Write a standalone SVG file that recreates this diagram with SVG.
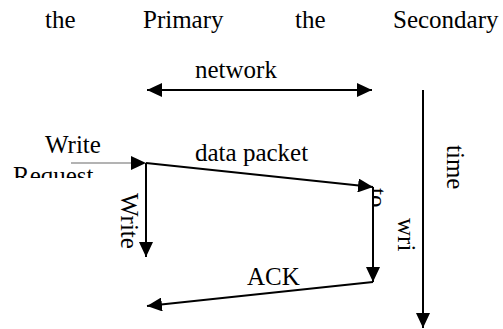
<svg xmlns="http://www.w3.org/2000/svg" width="503" height="329" viewBox="0 0 503 329">
<style>
text{font-family:"Liberation Serif","Times New Roman",serif;font-size:25px;fill:#000}
.ln{stroke:#000;stroke-width:2;fill:none}
.gray{stroke:#9a9a9a;stroke-width:1.5;fill:none}
</style>
<defs>
<marker id="ah" markerUnits="userSpaceOnUse" markerWidth="16" markerHeight="14" refX="15" refY="7" orient="auto-start-reverse">
<path d="M0,0 L15,7 L0,14 z" fill="#000"/>
</marker>
<clipPath id="clipReq"><rect x="0" y="140" width="140" height="38"/></clipPath>
<clipPath id="clipTo"><rect x="374" y="180" width="20" height="30"/></clipPath>
</defs>
<rect width="503" height="329" fill="#fff"/>
<g id="header">
<text x="45" y="28">the</text>
<text x="143" y="28">Primary</text>
<text x="295" y="28">the</text>
<text x="393" y="28">Secondary</text>
</g>
<g id="connectors">
<line class="ln" x1="147" y1="90" x2="372" y2="90" marker-start="url(#ah)" marker-end="url(#ah)"/>
<line class="gray" x1="71" y1="163" x2="133" y2="163"/>
<path d="M131,156 L146,163 L131,170 z" fill="#000"/>
<line class="ln" x1="146" y1="163" x2="373" y2="187" marker-end="url(#ah)"/>
<line class="ln" x1="146" y1="163" x2="146" y2="257" marker-end="url(#ah)"/>
<line class="ln" x1="373" y1="187" x2="373" y2="282" marker-end="url(#ah)"/>
<line class="ln" x1="373" y1="282" x2="147" y2="306" marker-end="url(#ah)"/>
<line class="ln" x1="423" y1="90" x2="423" y2="328" marker-end="url(#ah)"/>
</g>
<g id="labels">
<text x="195" y="78">network</text>
<text x="195" y="161">data packet</text>
<text x="247" y="285">ACK</text>
<text x="45" y="153">Write</text>
<text x="13" y="184" clip-path="url(#clipReq)">Request</text>
<text transform="translate(121,193) rotate(90)">Write</text>
<g clip-path="url(#clipTo)"><text transform="translate(369,188) rotate(90)">to</text></g>
<text transform="translate(398,218) rotate(90)">wri</text>
<text transform="translate(447,145) rotate(90)">time</text>
</g>
</svg>
